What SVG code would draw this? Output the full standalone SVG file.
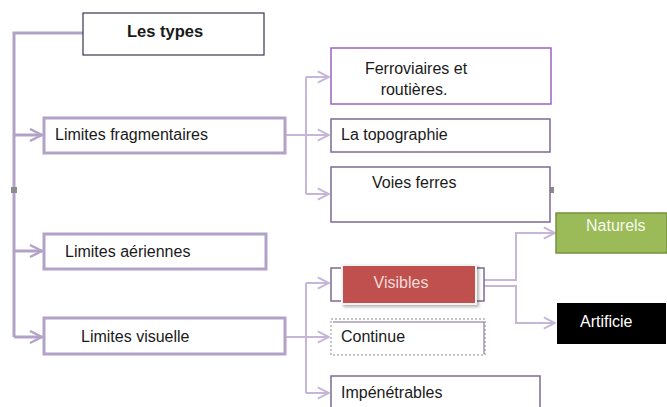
<svg xmlns="http://www.w3.org/2000/svg" width="667" height="407" viewBox="0 0 667 407">
  <style>
    text { font-family: "Liberation Sans", "DejaVu Sans", sans-serif; font-size: 16px; fill: #1a1a1a; }
    text.title { font-weight: bold; font-size: 16.5px; }
    text.light-red { fill: #f2dcdb; }
    text.light-green { fill: #f5f9ee; }
    text.white { fill: #ffffff; }
    .trunk { fill: none; stroke: #b3a2c7; stroke-width: 3; }
    .branch { fill: none; stroke: #c6b6da; stroke-width: 2; }
    .main { fill: #ffffff; stroke: #b3a2c7; stroke-width: 3; }
    .leaf { fill: #ffffff; stroke: #7e6a96; stroke-width: 1.5; }
    .handle { fill: #8c8c8c; }
  </style>
  <defs>
    <marker id="chev" viewBox="0 0 10 10" refX="9" refY="5" markerWidth="5" markerHeight="5" orient="auto" markerUnits="strokeWidth">
      <path d="M1,1 L9,5 L1,9" fill="none" stroke="#b3a2c7" stroke-width="1.6"/>
    </marker>
    <marker id="chev2" viewBox="0 0 10 10" refX="9" refY="5" markerWidth="7" markerHeight="7" orient="auto" markerUnits="strokeWidth">
      <path d="M1,1 L9,5 L1,9" fill="none" stroke="#c6b6da" stroke-width="1.4"/>
    </marker>
    <filter id="shadow" x="-10%" y="-20%" width="125%" height="150%">
      <feDropShadow dx="2" dy="2" stdDeviation="1.5" flood-color="#000" flood-opacity="0.3"/>
    </filter>
  </defs>

  <!-- connectors -->
  <g id="connectors">
    <path class="trunk" d="M83,33 H14 V337"/>
    <path class="trunk" d="M14,135 H42" marker-end="url(#chev)"/>
    <path class="trunk" d="M14,251 H42" marker-end="url(#chev)"/>
    <path class="trunk" d="M14,337 H42" marker-end="url(#chev)"/>

    <path class="branch" d="M285,135 H306"/>
    <path class="branch" d="M306,77 V194"/>
    <path class="branch" d="M306,77 H329" marker-end="url(#chev2)"/>
    <path class="branch" d="M306,135 H329" marker-end="url(#chev2)"/>
    <path class="branch" d="M306,194 H329" marker-end="url(#chev2)"/>

    <path class="branch" d="M285,337 H306"/>
    <path class="branch" d="M306,283 V393"/>
    <path class="branch" d="M306,283 H329" marker-end="url(#chev2)"/>
    <path class="branch" d="M306,337 H329" marker-end="url(#chev2)"/>
    <path class="branch" d="M306,393 H329" marker-end="url(#chev2)"/>

    <path class="branch" d="M484,280 H516 V233 H555" marker-end="url(#chev2)"/>
    <path class="branch" d="M484,286 H516 V323 H555" marker-end="url(#chev2)"/>

    <rect class="handle" x="11" y="187" width="6" height="6"/>
    <rect class="handle" x="548" y="187" width="6" height="6"/>
  </g>

  <g id="les-types">
    <rect x="83" y="13" width="181" height="42" fill="#ffffff" stroke="#3d3450" stroke-width="1.2"/>
    <text class="title" x="127" y="37">Les types</text>
  </g>

  <g id="limites-fragmentaires">
    <rect class="main" x="44" y="118" width="241" height="35"/>
    <text x="55" y="140">Limites fragmentaires</text>
  </g>

  <g id="limites-aeriennes">
    <rect class="main" x="44" y="234" width="222" height="35"/>
    <text x="65" y="257">Limites aériennes</text>
  </g>

  <g id="limites-visuelle">
    <rect class="main" x="44" y="318" width="241" height="36"/>
    <text x="81" y="342">Limites visuelle</text>
  </g>

  <g id="ferroviaires">
    <rect x="331" y="48" width="220" height="56" fill="#ffffff" stroke="#9b63c4" stroke-width="1.5"/>
    <text x="416" y="74" text-anchor="middle">Ferroviaires et</text>
    <text x="414" y="95" text-anchor="middle">routières.</text>
  </g>

  <g id="topographie">
    <rect class="leaf" x="331" y="119" width="219" height="33"/>
    <text x="341" y="140">La topographie</text>
  </g>

  <g id="voies-ferres">
    <rect class="leaf" x="331" y="167" width="219" height="55"/>
    <text x="372" y="188">Voies ferres</text>
  </g>

  <g id="visibles">
    <rect class="leaf" x="331" y="268" width="153" height="33"/>
    <rect x="341" y="264" width="136" height="41" fill="#f4f4f4" filter="url(#shadow)"/>
    <rect x="343" y="266" width="132" height="37" fill="#c0504d"/>
    <text class="light-red" x="401" y="288" text-anchor="middle">Visibles</text>
  </g>

  <g id="continue">
    <rect x="331" y="319" width="154" height="36" fill="#ffffff" stroke="#8a8a8a" stroke-width="1" stroke-dasharray="2,2"/>
    <path d="M333,322 H484 V354" fill="none" stroke="#7e6a96" stroke-width="1"/>
    <text x="341" y="342">Continue</text>
  </g>

  <g id="impenetrables">
    <rect class="leaf" x="331" y="376" width="209" height="40"/>
    <text x="341" y="398">Impénétrables</text>
  </g>

  <g id="naturels">
    <rect x="556" y="213" width="111" height="40" fill="#9bbb59" stroke="#76923c" stroke-width="1.5"/>
    <text class="light-green" x="586" y="231">Naturels</text>
  </g>

  <g id="artificie">
    <rect x="557" y="303" width="109" height="41" fill="#000000"/>
    <text class="white" x="580" y="327">Artificie</text>
  </g>
</svg>
